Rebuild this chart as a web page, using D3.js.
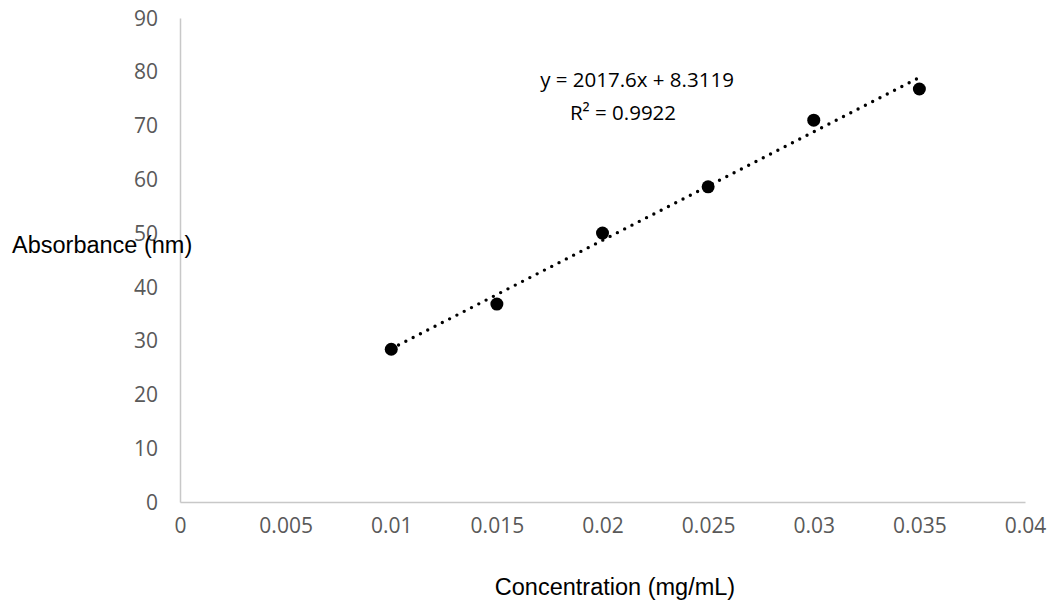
<!DOCTYPE html>
<html>
<head>
<meta charset="utf-8">
<script src="https://cdn.jsdelivr.net/npm/d3@7/dist/d3.min.js"></script>
<style>
html,body{margin:0;padding:0;background:#fff;}
svg{display:block;}
</style>
</head>
<body>
<svg id="chart" width="1051" height="605"></svg>
<script>
const concentration = [0.01, 0.015, 0.02, 0.025, 0.03, 0.035];
const absorbance = [28.4, 36.8, 50.0, 58.6, 71.0, 76.8];
const xTicks = [0, 0.005, 0.01, 0.015, 0.02, 0.025, 0.03, 0.035, 0.04];
const xTickLabels = ["0", "0.005", "0.01", "0.015", "0.02", "0.025", "0.03", "0.035", "0.04"];
const yTicks = [0, 10, 20, 30, 40, 50, 60, 70, 80, 90];
const trendSlope = 2017.6;
const trendIntercept = 8.3119;
const trendRange = [0.01, 0.035];
const equationText = "y = 2017.6x + 8.3119";
const r2Label = "0.9922";

const svg = d3.select("#chart");
const x = d3.scaleLinear().domain([0, 0.04]).range([180, 1025]);
const y = d3.scaleLinear().domain([0, 90]).range([502, 18]);

const tickFont = "'Open Sans', 'Noto Sans', sans-serif";

// Axes
const xAxis = svg.append("g").attr("transform", `translate(0,${y(0)})`)
  .call(d3.axisBottom(x).tickValues(xTicks).tickSize(0).tickPadding(0)
    .tickFormat((d, i) => xTickLabels[i]));
xAxis.select(".domain").attr("stroke", "#c8c8c8").attr("stroke-width", 1.5);
xAxis.selectAll("text").attr("font-family", tickFont).attr("font-size", 21)
  .attr("fill", "#595959").attr("dy", null).attr("y", 30.5);

const yAxis = svg.append("g").attr("transform", `translate(${x(0)},0)`)
  .call(d3.axisLeft(y).tickValues(yTicks).tickSize(0).tickPadding(22));
yAxis.select(".domain").attr("stroke", "#c8c8c8").attr("stroke-width", 1.5);
yAxis.selectAll("text").attr("font-family", tickFont).attr("font-size", 21)
  .attr("fill", "#595959").attr("dy", "0.34em");

// Trendline
const trendData = trendRange.map(v => [v, trendSlope * v + trendIntercept]);
svg.append("path")
  .datum(trendData)
  .attr("d", d3.line().x(d => x(d[0])).y(d => y(d[1])))
  .attr("fill", "none")
  .attr("stroke", "#000")
  .attr("stroke-width", 3.4)
  .attr("stroke-linecap", "round")
  .attr("stroke-dasharray", "0 8.2");

// Points
svg.append("g").selectAll("circle")
  .data(concentration.map((c, i) => [c, absorbance[i]]))
  .join("circle")
  .attr("cx", d => x(d[0]))
  .attr("cy", d => y(d[1]))
  .attr("r", 6.5)
  .attr("fill", "#000");

// Equation
svg.append("text").attr("x", 637).attr("y", 87)
  .attr("text-anchor", "middle").attr("font-family", tickFont)
  .attr("font-size", 20.5).attr("fill", "#000").text(equationText);
const r2 = svg.append("text").attr("x", 623).attr("y", 120)
  .attr("text-anchor", "middle").attr("font-family", tickFont)
  .attr("font-size", 20.5).attr("fill", "#000");
r2.append("tspan").text("R² = " + r2Label);

// Axis titles
svg.append("text").attr("x", 615).attr("y", 595)
  .attr("text-anchor", "middle")
  .attr("font-family", "'Liberation Sans', Arial, sans-serif")
  .attr("font-size", 23.5).attr("fill", "#000")
  .text("Concentration (mg/mL)");
svg.append("text").attr("x", 12).attr("y", 253)
  .attr("text-anchor", "start")
  .attr("font-family", "'Liberation Sans', Arial, sans-serif")
  .attr("font-size", 23.5).attr("fill", "#000")
  .text("Absorbance (nm)");
</script>
</body>
</html>
